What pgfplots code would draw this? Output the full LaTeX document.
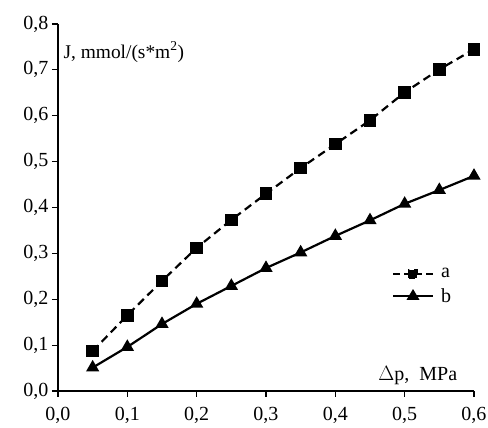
\documentclass[border=0pt]{standalone}
\usepackage{fontspec}
\setmainfont{Liberation Serif}
\usepackage{pgfplots}
\pgfplotsset{compat=1.18}
\begin{document}
\begin{tikzpicture}
\path[use as bounding box] (-58pt,-37pt) rectangle (430pt,391pt);
\begin{axis}[
  scale only axis,
  width=416pt, height=367pt,
  xmin=0, xmax=0.6, ymin=0, ymax=0.8,
  axis lines=left,
  axis line style={-, line width=1.2pt},
  xtick={0,0.1,...,0.6},
  ytick={0,0.1,...,0.8},
  tick align=outside,
  major tick length=6pt,
  tick style={line width=1.2pt, black},
  /pgf/number format/assume math mode=true,
  /pgf/number format/use comma,
  /pgf/number format/fixed,
  /pgf/number format/fixed zerofill,
  /pgf/number format/precision=1,
  ticklabel style={font=\fontsize{20}{24}\selectfont},
  xticklabel style={yshift=-7pt},
  scaled ticks=false,
  legend style={at={(0.795,0.345)}, anchor=north west, draw=none, fill=none,
    font=\fontsize{20}{24}\selectfont, row sep=5pt, nodes={inner xsep=7pt}},
  legend cell align=left,
  clip=false,
]
\addplot[black, line width=2.2pt, dash pattern=on 8pt off 5pt, mark=square*, mark size=5.2pt, mark options={solid},
  legend image code/.code={\draw[line width=2.2pt, dash pattern=on 7pt off 4pt] (0pt,0pt) -- (40pt,0pt); \fill (16pt,-4pt) rectangle (24pt,4pt);}]
coordinates {(0.05,0.087) (0.1,0.165) (0.15,0.240) (0.2,0.312) (0.25,0.373) (0.3,0.430) (0.35,0.486) (0.4,0.538) (0.45,0.590) (0.5,0.651) (0.55,0.701) (0.6,0.745)};
\addlegendentry{a}
\addplot[black, line width=2.2pt, mark=triangle*, mark size=5.5pt,
  legend image code/.code={\draw[line width=2.2pt] (0pt,0pt) -- (40pt,0pt); \fill (15.5pt,-2.5pt) -- (24.5pt,-2.5pt) -- (20pt,5pt) -- cycle;}]
coordinates {(0.05,0.051) (0.1,0.096) (0.15,0.146) (0.2,0.190) (0.25,0.229) (0.3,0.268) (0.35,0.302) (0.4,0.338) (0.45,0.372) (0.5,0.408) (0.55,0.438) (0.6,0.469)};
\addlegendentry{b}
\node[anchor=west, font=\fontsize{19.4}{23}\selectfont] at (rel axis cs:0.005,0.924) {J, mmol/(s*m\textsuperscript{2})};
\node[anchor=east, font=\fontsize{20}{24}\selectfont] at (rel axis cs:0.968,0.041) {$\Delta$p,\ \ MPa};
\end{axis}
\end{tikzpicture}
\end{document}
